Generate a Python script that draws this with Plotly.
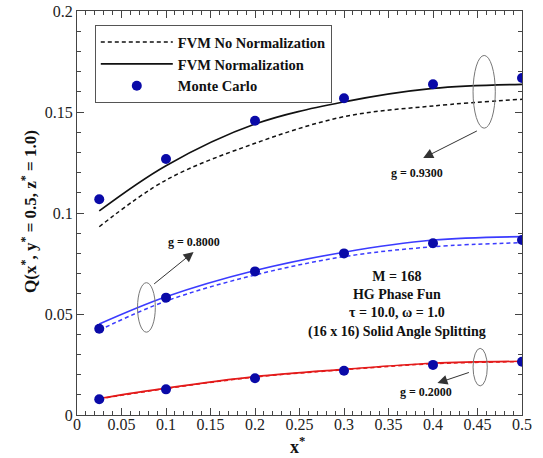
import plotly.graph_objects as go

# ---------------- data ----------------
x_pts = [0.025, 0.1, 0.2, 0.3, 0.4, 0.5]

# g = 0.93
fvm_norm_093 = [0.1010, 0.1234, 0.1440, 0.1550, 0.1617, 0.1637]
fvm_nonorm_093 = [0.0932, 0.1163, 0.1345, 0.1477, 0.1530, 0.1563]
mc_093 = [0.1068, 0.1267, 0.1457, 0.1568, 0.1637, 0.1668]

# g = 0.80
fvm_norm_080 = [0.0450, 0.0585, 0.0715, 0.0806, 0.0866, 0.0883]
fvm_nonorm_080 = [0.0420, 0.0564, 0.0693, 0.0784, 0.0833, 0.0853]
mc_080 = [0.0427, 0.0581, 0.0711, 0.0800, 0.0850, 0.0866]

# g = 0.20
fvm_norm_020 = [0.0082, 0.0133, 0.0190, 0.0226, 0.0256, 0.0266]
fvm_nonorm_020 = [0.0080, 0.0131, 0.0188, 0.0224, 0.0254, 0.0264]
mc_020 = [0.0078, 0.0127, 0.0182, 0.0219, 0.0248, 0.0264]

legend_names = ["FVM No Normalization", "FVM Normalization", "Monte Carlo"]
g_labels = ["g = 0.9300", "g = 0.8000", "g = 0.2000"]
info_lines = ["M = 168", "HG Phase Fun", "τ = 10.0, ω = 1.0", "(16 x 16) Solid Angle Splitting"]
x_title = "x<sup>*</sup>"
y_title = "Q(x<sup>*</sup>, y<sup>*</sup> = 0.5, z<sup>*</sup> = 1.0)"

FONT = "Liberation Serif"
MC_COLOR = "#0a0aa8"
BLUE = "#3b3bff"
RED = "#e31a1a"
BLACK = "#111111"

fig = go.Figure()

def add_pair(norm, nonorm, color, show):
    fig.add_trace(go.Scatter(x=x_pts, y=nonorm, mode="lines", line_shape="spline",
                             line=dict(color=color, width=1.5, dash="4px,3px"),
                             name="<b>" + legend_names[0] + "</b>", showlegend=show))
    fig.add_trace(go.Scatter(x=x_pts, y=norm, mode="lines", line_shape="spline",
                             line=dict(color=color, width=1.6),
                             name="<b>" + legend_names[1] + "</b>", showlegend=show))

add_pair(fvm_norm_093, fvm_nonorm_093, BLACK, True)
add_pair(fvm_norm_080, fvm_nonorm_080, BLUE, False)
add_pair(fvm_norm_020, fvm_nonorm_020, RED, False)

mc_x = x_pts * 3
mc_y = mc_093 + mc_080 + mc_020
fig.add_trace(go.Scatter(x=mc_x, y=mc_y, mode="markers",
                         marker=dict(color=MC_COLOR, size=10, symbol="circle"),
                         name="<b>" + legend_names[2] + "</b>", showlegend=True))

# ellipses
ell = [
    (0.445, 0.47, 0.142, 0.178),
    (0.068, 0.088, 0.041, 0.0655),
    (0.445, 0.461, 0.0144, 0.033),
]
shapes = []
for x0, x1, y0, y1 in ell:
    shapes.append(dict(type="circle", xref="x", yref="y", x0=x0, x1=x1, y0=y0, y1=y1,
                       line=dict(color="#777777", width=1)))

annotations = []
arrows = [
    ((0.389, 0.1272), (0.451, 0.141), (0.382, 0.1200), g_labels[0]),
    ((0.131, 0.0807), (0.085, 0.0643), (0.131, 0.0857), g_labels[1]),
    ((0.405, 0.0158), (0.442, 0.0213), (0.392, 0.0114), g_labels[2]),
]
for (hx, hy), (tx, ty), (lx, ly), lab in arrows:
    annotations.append(dict(x=hx, y=hy, ax=tx, ay=ty, xref="x", yref="y",
                            axref="x", ayref="y", text="", showarrow=True,
                            arrowhead=2, arrowsize=2, arrowwidth=1,
                            arrowcolor="#333333"))
    annotations.append(dict(x=lx, y=ly, xref="x", yref="y", text="<b>" + lab + "</b>",
                            showarrow=False, font=dict(family=FONT, size=12, color="#111")))

annotations.append(dict(x=0.36, y=0.0545, xref="x", yref="y",
                        text="<br>".join("<b>" + s + "</b>" for s in info_lines),
                        showarrow=False, align="center",
                        font=dict(family=FONT, size=14, color="#111")))

# axis titles
annotations.append(dict(x=0.495, y=-0.042, xref="paper", yref="paper", text="<b>" + x_title + "</b>",
                        showarrow=False, xanchor="center", yanchor="top",
                        font=dict(family=FONT, size=18, color="#111")))
annotations.append(dict(x=-0.108, y=0.505, xref="paper", yref="paper", text="<b>" + y_title + "</b>",
                        showarrow=False, xanchor="center", yanchor="middle", textangle=-90,
                        font=dict(family=FONT, size=17, color="#111")))

axis_common = dict(showgrid=False, zeroline=False, showline=True, linecolor="#444",
                   linewidth=1, mirror="allticks", ticks="inside", ticklen=7,
                   tickcolor="#444", automargin=False,
                   tickfont=dict(family=FONT, size=16, color="#222"))

fig.update_layout(
    width=543, height=458,
    margin=dict(l=77, r=21, t=11, b=43),
    paper_bgcolor="white", plot_bgcolor="white",
    font=dict(family=FONT, color="#111"),
    xaxis=dict(range=[0, 0.5], dtick=0.05, ticklabelstandoff=-5, **axis_common,
               minor=dict(dtick=0.01, ticks="inside", ticklen=4, tickcolor="#444")),
    yaxis=dict(range=[0, 0.2], dtick=0.05, **axis_common,
               minor=dict(dtick=0.01, ticks="inside", ticklen=4, tickcolor="#444")),
    legend=dict(x=0.04, y=0.965, xanchor="left", yanchor="top",
                bordercolor="#555", borderwidth=1, bgcolor="white",
                font=dict(family=FONT, size=14.5, color="#111"),
                itemwidth=72, tracegroupgap=0),
    shapes=shapes, annotations=annotations,
)

fig.write_html("out.html", config={"displayModeBar": False},
               post_script="document.body.style.margin='0';document.body.style.overflow='hidden';")
